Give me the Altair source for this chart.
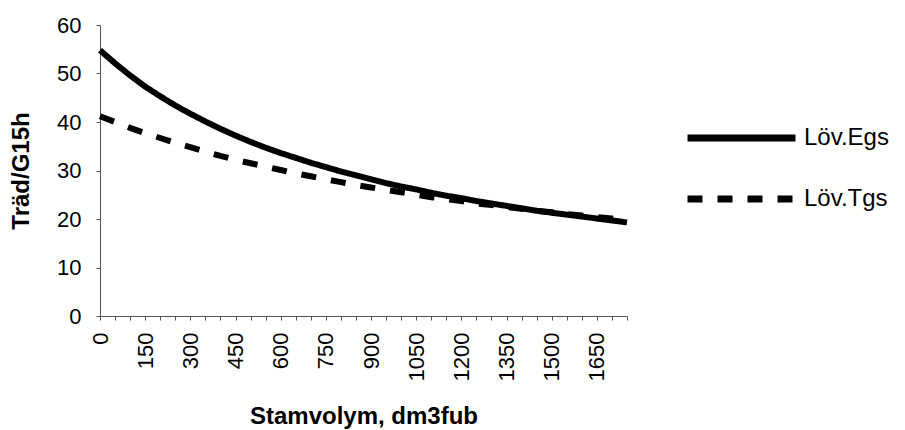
import altair as alt
import pandas as pd

# Category values (Stamvolym, dm3fub)
stamvolym = list(range(0, 1800, 50))

# Series
lov_egs = [54.8, 52.1, 49.6, 47.3, 45.3, 43.4, 41.7, 40.1, 38.6, 37.2,
           35.9, 34.7, 33.6, 32.6, 31.6, 30.7, 29.8, 29.0, 28.2, 27.4,
           26.7, 26.1, 25.4, 24.8, 24.3, 23.7, 23.2, 22.7, 22.2, 21.7,
           21.3, 20.9, 20.5, 20.1, 19.7, 19.3]
lov_tgs = [41.2, 40.0, 38.8, 37.7, 36.7, 35.7, 34.8, 33.9, 33.0, 32.2,
           31.5, 30.8, 30.1, 29.4, 28.8, 28.2, 27.6, 27.0, 26.5, 26.0,
           25.5, 25.0, 24.5, 24.1, 23.7, 23.2, 22.9, 22.5, 22.1, 21.7,
           21.4, 21.0, 20.7, 20.4, 20.1, 19.8]

series_names = ["Löv.Egs", "Löv.Tgs"]
x_tick_values = list(range(0, 1800, 50))
y_tick_values = [0, 10, 20, 30, 40, 50, 60]

rows = []
for name, vals in zip(series_names, [lov_egs, lov_tgs]):
    for x, v in zip(stamvolym, vals):
        rows.append({"x": x, "y": v, "serie": name})
df = pd.DataFrame(rows)

FONT = "Liberation Sans"

chart = alt.Chart(df).mark_line(strokeWidth=6, color="black", strokeCap="butt").encode(
    x=alt.X("x:Q",
            scale=alt.Scale(domain=[0, 1750], nice=False, zero=False),
            axis=alt.Axis(values=x_tick_values,
                          labelExpr="(datum.value % 150 == 0 && datum.value <= 1650) ? datum.label : ''",
                          labelAngle=270, labelAlign="right", labelBaseline="middle",
                          labelFontSize=22, labelPadding=12, tickSize=4,
                          title="Stamvolym, dm3fub", titleFontSize=24, titleFontWeight="bold",
                          titlePadding=24, format="d", labelOverlap=False,
                          grid=False, domainColor="#555", tickColor="#555",
                          labelColor="black", titleColor="black",
                          labelFont=FONT, titleFont=FONT)),
    y=alt.Y("y:Q",
            scale=alt.Scale(domain=[0, 60], nice=False),
            axis=alt.Axis(values=y_tick_values, labelFontSize=22, labelPadding=15,
                          tickSize=4, title="Träd/G15h", titleFontSize=24,
                          titleFontWeight="bold", titlePadding=23, grid=False,
                          domainColor="#555", tickColor="#555",
                          labelColor="black", titleColor="black",
                          labelFont=FONT, titleFont=FONT)),
    strokeDash=alt.StrokeDash("serie:N",
                              scale=alt.Scale(domain=series_names, range=[[1, 0], [15, 15]]),
                              legend=alt.Legend(title=None, orient="none", legendX=584, legendY=98,
                                                symbolType="stroke", symbolSize=11664,
                                                symbolStrokeWidth=7, symbolStrokeColor="black",
                                                labelFontSize=24, labelFont=FONT, labelColor="black",
                                                labelOffset=5, clipHeight=30, rowPadding=31)),
).properties(
    width=527, height=291,
    autosize=alt.AutoSizeParams(type="none"),
    padding={"left": 100, "top": 25, "right": 278, "bottom": 114},
).configure(
    background="white",
    view=alt.ViewConfig(stroke=None, strokeWidth=0, fill="white"),
    style={"cell": {"stroke": "transparent", "strokeWidth": 0}},
)

chart.save("out.html", embed_options={"renderer": "svg", "actions": False})
